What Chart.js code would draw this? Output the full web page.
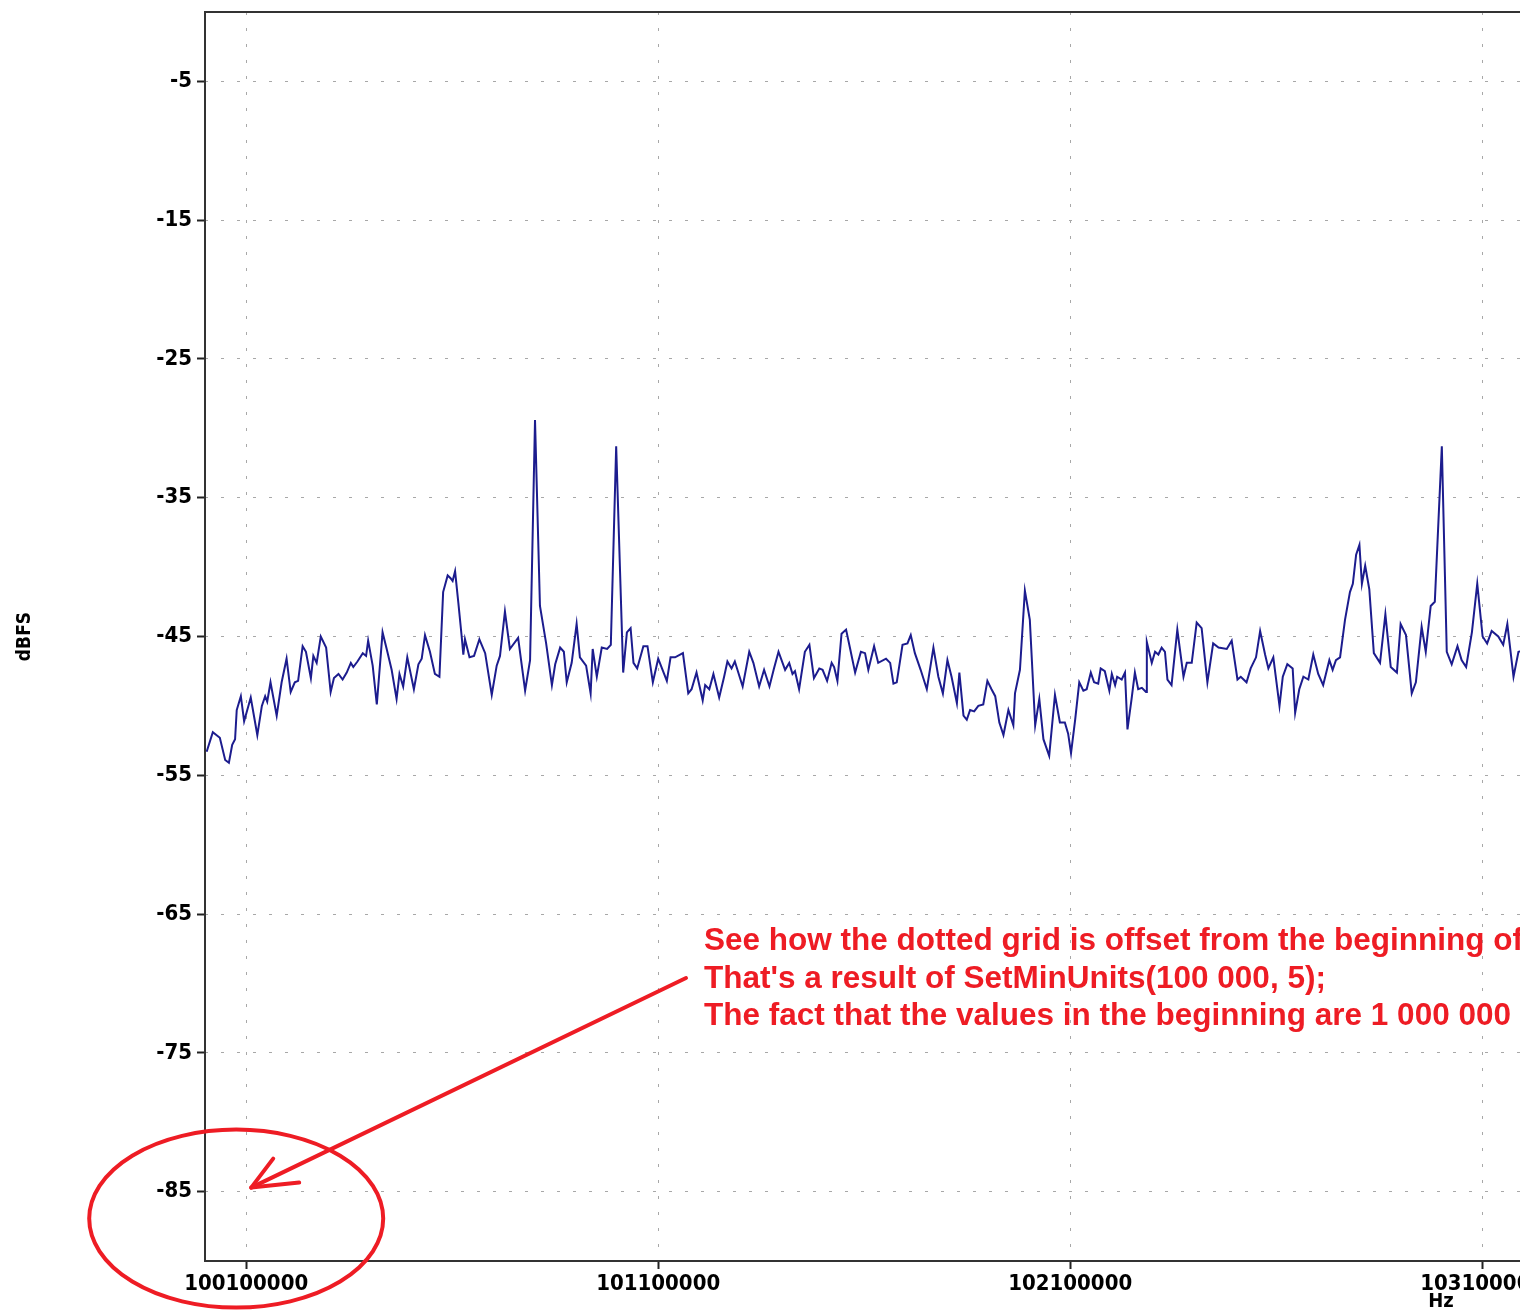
<!DOCTYPE html>
<html><head><meta charset="utf-8">
<script src="https://cdn.jsdelivr.net/npm/chart.js@4.4.0/dist/chart.umd.min.js"></script>
<style>
html,body{margin:0;padding:0;overflow:hidden;background:#fff;width:1520px;height:1312px}
#wrap{position:absolute;left:0;top:0;width:2700px;height:1312px}
canvas{display:block}
</style></head>
<body><div id="wrap"><canvas id="c" width="2700" height="1312"></canvas></div>
<script>
// Frequency of each spectrum sample, in kHz
const freqKHz = [
100004,100019,100036,100049,100058,100066,100073,100077,100087,100095,
100111,100127,100138,100146,100151,100159,100174,100186,100198,100208,
100218,100226,100237,100245,100257,100263,100271,100281,100294,100305,
100313,100324,100334,100344,100354,100360,100370,100383,100391,100396,
100407,100417,100431,100441,100453,100465,100472,100481,100491,100507,
100518,100526,100534,100546,100558,100569,100578,100589,100596,100601,
100607,100615,100623,100627,100631,100642,100653,100666,100680,100696,
100708,100716,100728,100740,100760,100777,100789,100801,100813,100828,
100842,100850,100862,100871,100878,100890,100902,100910,100925,100936,
100941,100951,100963,100976,100985,100998,101015,101024,101033,101040,
101049,101064,101074,101087,101100,101121,101130,101141,101160,101173,
101181,101193,101208,101214,101224,101234,101248,101260,101268,101278,
101286,101305,101321,101331,101345,101357,101370,101381,101392,101408,
101418,101426,101432,101442,101456,101467,101478,101491,101499,101510,
101521,101527,101535,101545,101556,101566,101578,101592,101602,101610,
101624,101634,101653,101663,101671,101679,101693,101705,101713,101723,
101737,101752,101768,101780,101791,101802,101812,101825,101831,101841,
101849,101857,101867,101877,101889,101899,101909,101918,101928,101938,
101950,101962,101966,101978,101990,102002,102015,102025,102035,102049,
102063,102075,102087,102095,102102,102112,102122,102132,102140,102150,
102158,102168,102174,102184,102195,102201,102209,102214,102225,102233,
102239,102249,102257,102265,102274,102284,102286,102298,102306,102314,
102322,102330,102336,102346,102360,102375,102383,102395,102407,102419,
102433,102447,102460,102480,102492,102506,102514,102528,102538,102551,
102561,102573,102581,102593,102608,102616,102627,102640,102646,102656,
102666,102678,102690,102702,102714,102729,102737,102745,102755,102767,
102779,102786,102794,102802,102808,102816,102826,102837,102852,102865,
102878,102893,102902,102915,102929,102939,102953,102963,102975,102985,
103002,103014,103026,103040,103050,103061,103075,103088,103101,103112,
103123,103139,103151,103161,103176,103188,103202,103216
];
// Level of each sample, in dBFS
const levelDb = [
-53.3,-51.9,-52.3,-53.9,-54.1,-52.8,-52.4,-50.3,-49.3,-51.1,
-49.4,-52.1,-50.0,-49.3,-49.7,-48.3,-50.7,-48.3,-46.6,-49.0,
-48.3,-48.2,-45.7,-46.1,-48.0,-46.4,-46.9,-45.0,-45.8,-49.0,
-48.0,-47.7,-48.1,-47.6,-46.9,-47.2,-46.8,-46.2,-46.4,-45.3,
-47.1,-49.9,-44.7,-45.9,-47.4,-49.5,-47.7,-48.6,-46.5,-48.8,
-47.0,-46.6,-44.9,-46.1,-47.7,-47.9,-41.8,-40.6,-40.8,-41.0,
-40.3,-42.6,-45.0,-46.3,-45.2,-46.5,-46.4,-45.2,-46.2,-49.2,
-47.1,-46.4,-43.2,-45.9,-45.1,-48.9,-46.7,-29.4,-42.8,-45.5,
-48.5,-47.0,-45.8,-46.1,-48.3,-46.9,-44.1,-46.5,-47.1,-49.1,
-45.9,-47.9,-45.8,-45.9,-45.6,-31.3,-47.6,-44.7,-44.4,-46.9,
-47.3,-45.7,-45.7,-48.3,-46.6,-48.2,-46.5,-46.5,-46.2,-49.1,
-48.8,-47.6,-49.6,-48.5,-48.8,-47.7,-49.4,-47.9,-46.8,-47.3,
-46.8,-48.6,-46.1,-46.9,-48.6,-47.4,-48.6,-47.3,-46.1,-47.4,
-46.9,-47.7,-47.5,-48.8,-46.1,-45.6,-48.0,-47.3,-47.4,-48.2,
-46.9,-47.2,-48.2,-44.8,-44.5,-45.9,-47.6,-46.1,-46.2,-47.4,
-45.7,-46.9,-46.6,-46.9,-48.4,-48.3,-45.6,-45.5,-44.9,-46.2,
-47.4,-48.8,-45.8,-47.9,-49.1,-46.7,-47.9,-49.8,-47.6,-50.7,
-51.0,-50.3,-50.4,-50.0,-49.9,-48.2,-48.8,-49.3,-51.2,-52.1,
-50.3,-51.4,-49.1,-47.4,-41.7,-43.8,-51.4,-49.5,-52.4,-53.6,
-49.2,-51.2,-51.2,-52.0,-53.4,-51.0,-48.3,-48.9,-48.8,-47.6,
-48.3,-48.4,-47.3,-47.5,-48.9,-47.7,-48.5,-47.9,-48.1,-47.6,
-51.7,-49.5,-47.6,-48.8,-48.7,-49.0,-45.4,-46.9,-46.1,-46.3,
-45.8,-46.1,-48.1,-48.5,-44.5,-47.9,-46.9,-46.9,-44.0,-44.4,
-48.3,-45.5,-45.8,-45.9,-45.3,-48.1,-47.9,-48.3,-47.3,-46.5,
-44.6,-46.3,-47.3,-46.5,-50.0,-47.9,-47.0,-47.3,-50.5,-48.8,
-47.9,-48.1,-46.3,-47.7,-48.5,-46.7,-47.4,-46.7,-46.5,-43.8,
-41.8,-41.2,-39.1,-38.4,-41.2,-39.9,-41.6,-46.2,-46.9,-43.4,
-47.2,-47.6,-44.1,-44.9,-49.1,-48.3,-44.3,-46.1,-42.8,-42.5,
-31.3,-46.1,-47.0,-45.7,-46.7,-47.2,-44.7,-41.2,-45.0,-45.5,
-44.6,-45.0,-45.6,-44.1,-47.9,-46.1,-46.0,-45.8
];
const xTickHz = [100100000,101100000,102100000,103100000,104100000,105100000];
const yTickDb = [-85,-75,-65,-55,-45,-35,-25,-15,-5];
const xRangeHz = [100000000, 106000000];
const yRangeDb = [-90, 0];
const xTitle = 'Hz';
const yTitle = 'dBFS';
const noteLines = [
  'See how the dotted grid is offset from the beginning of the axis.',
  "That's a result of SetMinUnits(100 000, 5);",
  'The fact that the values in the beginning are 1 000 000 apart is not relevant.'
];

const points = freqKHz.map((f, i) => ({x: f * 1000, y: levelDb[i]}));
const tickFont = {family: '"DejaVu Sans Condensed", "DejaVu Sans", sans-serif', size: 22, weight: 'bold'};
const RED = '#ee1c24';

const framePlugin = {
  id: 'frame',
  beforeDraw(chart) {
    const ctx = chart.ctx;
    ctx.save();
    ctx.fillStyle = '#fff';
    ctx.fillRect(0, 0, chart.width, chart.height);
    ctx.restore();
  },
  afterDraw(chart) {
    const {ctx, chartArea: a, scales} = chart;
    ctx.save();
    ctx.strokeStyle = '#333';
    ctx.lineWidth = 2;
    ctx.strokeRect(a.left, a.top, a.right - a.left, a.bottom - a.top);
    // red annotation
    const tipX = scales.x.getPixelForValue(xTickHz[0]) + 5;
    const tipY = scales.y.getPixelForValue(yTickDb[0]) - 4;
    ctx.strokeStyle = RED;
    ctx.fillStyle = RED;
    ctx.lineWidth = 4;
    ctx.lineCap = 'round';
    ctx.lineJoin = 'round';
    ctx.beginPath();
    ctx.ellipse(tipX - 15, tipY + 31, 147, 89, 0, 0, Math.PI * 2);
    ctx.stroke();
    ctx.beginPath();
    ctx.moveTo(686, 978);
    ctx.lineTo(tipX, tipY);
    ctx.stroke();
    ctx.beginPath();
    ctx.moveTo(tipX + 22, tipY - 29);
    ctx.lineTo(tipX, tipY);
    ctx.lineTo(tipX + 48, tipY - 5);
    ctx.stroke();
    ctx.font = 'bold 31.5px "Liberation Sans", Arial, sans-serif';
    ctx.textBaseline = 'alphabetic';
    ctx.textAlign = 'left';
    noteLines.forEach((t, i) => ctx.fillText(t, 704, 950 + i * 37.5));
    ctx.restore();
  }
};

new Chart(document.getElementById('c'), {
  type: 'line',
  data: {
    datasets: [{
      data: points,
      borderColor: '#1c1c8e',
      borderWidth: 2,
      pointRadius: 0,
      tension: 0,
      fill: false
    }]
  },
  options: {
    responsive: false,
    animation: false,
    devicePixelRatio: 1,
    parsing: false,
    layout: {padding: {top: 12, right: 23, left: 0, bottom: 0}},
    plugins: {legend: {display: false}, tooltip: {enabled: false}},
    scales: {
      x: {
        type: 'linear',
        min: xRangeHz[0],
        max: xRangeHz[1],
        afterBuildTicks: s => { s.ticks = xTickHz.map(v => ({value: v})); },
        afterFit: s => { s.height = 51; s.paddingLeft = 0; s.paddingRight = 0; s.paddingTop = 0; s.paddingBottom = 0; },
        ticks: {
          color: '#000', font: tickFont, padding: 2, maxRotation: 0, autoSkip: false,
          callback: v => String(v)
        },
        grid: {
          color: '#a8a8a8', lineWidth: 1, drawTicks: true, tickLength: 8,
          tickColor: '#222', tickWidth: 2, tickBorderDash: []
        },
        border: {display: false, dash: [3, 13]},
        title: {
          display: true, text: xTitle, color: '#000',
          font: {family: '"DejaVu Sans Condensed", "DejaVu Sans", sans-serif', size: 20, weight: 'bold', lineHeight: 1},
          padding: {top: -3, bottom: 0}
        }
      },
      y: {
        type: 'linear',
        min: yRangeDb[0],
        max: yRangeDb[1],
        afterBuildTicks: s => { s.ticks = yTickDb.map(v => ({value: v})); },
        afterFit: s => { s.width = 205; s.paddingTop = 0; s.paddingBottom = 0; s.paddingLeft = 0; s.paddingRight = 0; },
        ticks: {color: '#000', font: tickFont, padding: 5, autoSkip: false, callback: v => String(v)},
        grid: {
          color: '#a8a8a8', lineWidth: 1, drawTicks: true, tickLength: 8,
          tickColor: '#222', tickWidth: 2, tickBorderDash: []
        },
        border: {display: false, dash: [3, 13]},
        title: {
          display: true, text: yTitle, color: '#000',
          font: {family: '"DejaVu Sans Condensed", "DejaVu Sans", sans-serif', size: 19, weight: 'bold', lineHeight: 1},
          padding: {top: 16, bottom: 0}
        }
      }
    }
  },
  plugins: [framePlugin]
});
</script>
</body></html>
